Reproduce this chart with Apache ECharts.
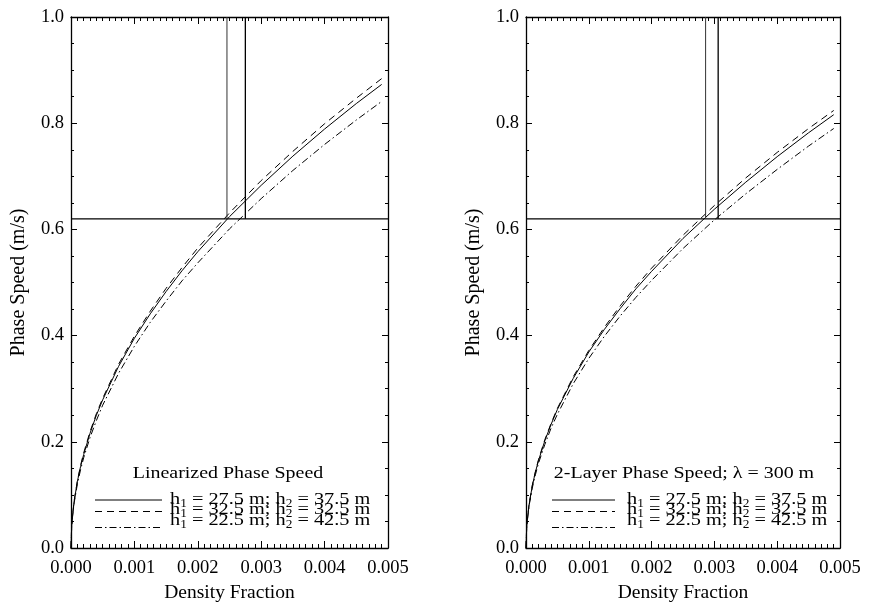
<!DOCTYPE html>
<html><head><meta charset="utf-8">
<script src="https://cdn.jsdelivr.net/npm/echarts@6/dist/echarts.min.js"></script>
<style>html,body{margin:0;padding:0;background:#fff}#c{width:869px;height:602px}</style>
</head><body><div id="c"></div>
<script>
// ---- data ----
const densityFraction = [0, 0.00001, 0.00002, 0.00005, 0.0001, 0.00015, 0.0002, 0.0003, 0.0004, 0.0005, 0.00075, 0.001, 0.00125, 0.0015, 0.00175, 0.002, 0.0025, 0.003, 0.0035, 0.004, 0.0045, 0.0049];
// Linearized phase speed (left panel)
const linA = [0, 0.039, 0.056, 0.088, 0.125, 0.153, 0.176, 0.216, 0.250, 0.279, 0.342, 0.395, 0.441, 0.483, 0.522, 0.558, 0.624, 0.683, 0.738, 0.789, 0.837, 0.873]; // h1=27.5, h2=37.5
const linB = [0, 0.040, 0.057, 0.089, 0.126, 0.155, 0.179, 0.219, 0.253, 0.282, 0.346, 0.399, 0.446, 0.489, 0.528, 0.565, 0.631, 0.692, 0.747, 0.799, 0.847, 0.884]; // h1=32.5, h2=32.5
const linC = [0, 0.038, 0.054, 0.085, 0.120, 0.147, 0.170, 0.208, 0.240, 0.269, 0.329, 0.380, 0.425, 0.465, 0.503, 0.537, 0.601, 0.658, 0.711, 0.760, 0.806, 0.841]; // h1=22.5, h2=42.5
// 2-layer phase speed, lambda = 300 m (right panel)
const twoA = [0, 0.037, 0.052, 0.082, 0.117, 0.143, 0.165, 0.202, 0.233, 0.261, 0.319, 0.369, 0.412, 0.451, 0.488, 0.521, 0.583, 0.638, 0.689, 0.737, 0.782, 0.816];
const twoB = [0, 0.037, 0.053, 0.083, 0.118, 0.144, 0.167, 0.204, 0.235, 0.263, 0.322, 0.372, 0.416, 0.456, 0.493, 0.527, 0.589, 0.645, 0.697, 0.745, 0.790, 0.824];
const twoC = [0, 0.036, 0.050, 0.080, 0.113, 0.138, 0.160, 0.195, 0.226, 0.252, 0.309, 0.357, 0.399, 0.437, 0.472, 0.504, 0.564, 0.618, 0.667, 0.713, 0.757, 0.790];
const refSpeed = 0.62;
const linVerticals = [0.00246, 0.00275];
const twoVerticals = [0.00286, 0.00306];
const xTickLabels = ['0.000', '0.001', '0.002', '0.003', '0.004', '0.005'];
const yTickLabels = ['0.0', '0.2', '0.4', '0.6', '0.8', '1.0'];
const legendH1 = ['27.5', '32.5', '22.5'];
const legendH2 = ['37.5', '32.5', '42.5'];
const legendTitles = ['Linearized Phase Speed', '2-Layer Phase Speed; \u03bb = 300 m'];
const xTitle = 'Density Fraction';
const yTitle = 'Phase Speed (m/s)';

// ---- chart ----
const FONT = 'Liberation Serif';
const FS = 18.5;
const chart = echarts.init(document.getElementById('c'), null, {renderer: 'canvas'});
const pair = (xs, ys) => xs.map((x, i) => [x, ys[i]]);
const grids = [
  {left: 71, top: 17, width: 317, height: 531},
  {left: 526, top: 17, width: 314, height: 531}
];
const axisLine = {show: true, onZero: false, lineStyle: {color: '#000', width: 1.3}};
const xAxes = [], yAxes = [];
grids.forEach((g, gi) => {
  ['bottom', 'top'].forEach(pos => {
    xAxes.push({
      type: 'value', gridIndex: gi, position: pos, min: 0, max: 0.005, interval: 0.001,
      axisLine, splitLine: {show: false},
      axisTick: {show: true, inside: true, length: 7, lineStyle: {color: '#000', width: 1}},
      minorTick: {show: true, splitNumber: 10, length: 4, lineStyle: {color: '#000', width: 1}},
      axisLabel: {show: pos === 'bottom', margin: 11, color: '#000', fontFamily: FONT, fontSize: FS,
        formatter: v => xTickLabels[Math.round(v / 0.001)]},
      name: pos === 'bottom' ? xTitle : '', nameLocation: 'middle', nameGap: 35,
      nameTextStyle: {color: '#000', fontFamily: FONT, fontSize: 19.5}
    });
  });
  ['left', 'right'].forEach(pos => {
    yAxes.push({
      type: 'value', gridIndex: gi, position: pos, min: 0, max: 1, interval: 0.2,
      axisLine, splitLine: {show: false},
      axisTick: {show: true, inside: true, length: 6, lineStyle: {color: '#000', width: 1}},
      minorTick: {show: true, splitNumber: 4, length: 3, lineStyle: {color: '#000', width: 1}},
      axisLabel: {show: pos === 'left', margin: 7, color: '#000', fontFamily: FONT, fontSize: FS,
        formatter: v => yTickLabels[Math.round(v / 0.2)]},
      name: pos === 'left' ? yTitle : '', nameLocation: 'middle', nameGap: 42,
      nameTextStyle: {color: '#000', fontFamily: FONT, fontSize: 20}
    });
  });
});

const curveStyles = [
  {type: 'solid'},
  {type: [7, 5]},
  {type: [7, 3, 1.5, 3]}
];
const series = [];
const panels = [
  {curves: [linA, linB, linC], verts: linVerticals, xi: 0, yi: 0},
  {curves: [twoA, twoB, twoC], verts: twoVerticals, xi: 2, yi: 2}
];
panels.forEach(p => {
  p.curves.forEach((c, k) => {
    series.push({
      type: 'line', xAxisIndex: p.xi, yAxisIndex: p.yi, data: pair(densityFraction, c),
      showSymbol: false, symbol: 'none', smooth: false, silent: true,
      lineStyle: Object.assign({color: '#000', width: 1}, curveStyles[k])
    });
  });
  series.push({
    type: 'line', xAxisIndex: p.xi, yAxisIndex: p.yi, data: [[0, refSpeed], [0.005, refSpeed]],
    showSymbol: false, symbol: 'none', silent: true, lineStyle: {color: '#000', width: 1.2}
  });
  p.verts.forEach((v, k) => {
    series.push({
      type: 'line', xAxisIndex: p.xi, yAxisIndex: p.yi, data: [[v, refSpeed], [v, 1]],
      showSymbol: false, symbol: 'none', silent: true,
      lineStyle: {color: k === 0 ? '#333' : '#000', width: k === 0 ? 1 : 1.3}
    });
  });
});

// legends as graphic (title + samples + labels with subscripts)
const rich = {
  n: {fontFamily: FONT, fontSize: 17.5, lineHeight: 16, color: '#000'},
  s: {fontFamily: FONT, fontSize: 11.5, lineHeight: 16, color: '#000', padding: [9, 0, 0, 0]}
};
const legendLayout = [
  {titleX: 228, lineX1: 95, lineX2: 162, textX: 170},
  {titleX: 684, lineX1: 552, lineX2: 615, textX: 627}
];
const rowTextY = [499.5, 509.5, 520];
const rowLineY = [500, 511.5, 527.5];
const graphic = [];
legendLayout.forEach((L, li) => {
  graphic.push({type: 'text', x: L.titleX, y: 473, scaleX: 1.14, silent: true,
    style: {text: legendTitles[li], font: '17.5px "' + FONT + '"', fill: '#000', align: 'center', verticalAlign: 'middle'}});
  for (let r = 0; r < 3; r++) {
    graphic.push({type: 'line', silent: true,
      shape: {x1: L.lineX1, y1: rowLineY[r], x2: L.lineX2, y2: rowLineY[r]},
      style: {stroke: '#000', lineWidth: 1, lineDash: r === 0 ? null : (r === 1 ? [7, 5] : [7, 3, 1.5, 3])}});
    graphic.push({type: 'text', x: L.textX, y: rowTextY[r], scaleX: 1.16, silent: true,
      style: {text: '{n|h}{s|1}{n| = ' + legendH1[r] + ' m; h}{s|2}{n| = ' + legendH2[r] + ' m}',
        rich, fill: '#000', align: 'left', verticalAlign: 'middle'}});
  }
});

chart.setOption({
  animation: false,
  backgroundColor: '#fff',
  grid: grids.map(g => Object.assign({containLabel: false, outerBoundsMode: 'none'}, g)),
  xAxis: xAxes,
  yAxis: yAxes,
  series,
  graphic
});
</script></body></html>
